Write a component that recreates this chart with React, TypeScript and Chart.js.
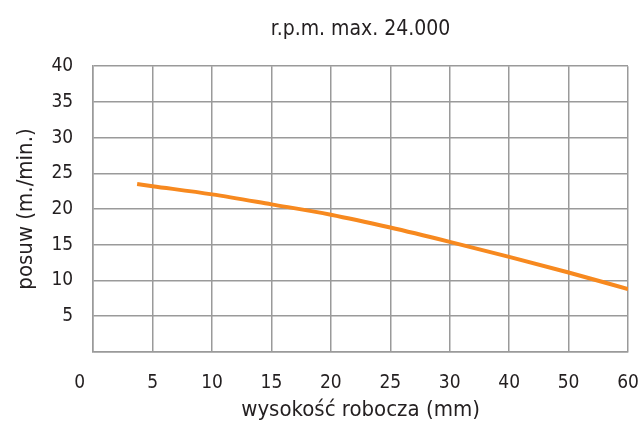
import React, { useEffect, useRef } from "react";
import { Chart, registerables } from "chart.js";

Chart.register(...registerables);

const xTickLabels = ["0", "5", "10", "15", "20", "25", "30", "40", "50", "60"];
const xValues = [3.7, 5, 10, 15, 20, 25, 30, 40, 50, 60];
const feedValues = [23.5, 23.2, 22.05, 20.65, 19.2, 17.4, 15.4, 13.3, 11.1, 8.8];
const yMin = 0;
const yMax = 40;
const yStep = 5;

const titleText = "r.p.m. max. 24.000";
const xTitle = "wysokość robocza (mm)";
const yTitle = "posuw (m./min.)";

const FONT = "'Liberation Sans Narrow', 'DejaVu Sans Condensed', sans-serif";
const TEXT = "#231f20";
const GRID = "#9a9a9a";
const LINE = "#f7891f";

// map a mm value to its position on the (evenly spaced) tick axis
function toAxisPos(v: number): number {
  const ticks = xTickLabels.map(Number);
  for (let i = 0; i < ticks.length - 1; i++) {
    if (v >= ticks[i] && v <= ticks[i + 1]) {
      return i + (v - ticks[i]) / (ticks[i + 1] - ticks[i]);
    }
  }
  return ticks.length - 1;
}

export default function App() {
  const ref = useRef<HTMLCanvasElement | null>(null);

  useEffect(() => {
    document.body.style.margin = "0";
    const canvas = ref.current;
    if (!canvas) return;
    const chart = new Chart(canvas, {
      type: "line",
      data: {
        datasets: [
          {
            data: xValues.map((x, i) => ({ x: toAxisPos(x), y: feedValues[i] })),
            borderColor: LINE,
            borderWidth: 4,
            pointRadius: 0,
            tension: 0.4,
            cubicInterpolationMode: "monotone",
            fill: false,
          },
        ],
      },
      options: {
        animation: false,
        responsive: false,
        devicePixelRatio: 1,
        layout: { padding: { left: 3, right: 10, top: 0, bottom: 5 } },
        plugins: {
          legend: { display: false },
          tooltip: { enabled: false },
          title: {
            display: true,
            text: titleText,
            fullSize: false,
            color: TEXT,
            font: { family: FONT, size: 21, weight: "normal" },
            padding: { top: 17, bottom: 24 },
          },
        },
        scales: {
          x: {
            type: "linear",
            min: 0,
            max: xTickLabels.length - 1,
            afterFit: (s: any) => {
              s.paddingRight = 10;
            },
            ticks: {
              stepSize: 1,
              autoSkip: false,
              maxRotation: 0,
              color: TEXT,
              font: { family: FONT, size: 19 },
              padding: 0,
              callback: (v: any) => {
                const i = Math.round(Number(v));
                const s = xTickLabels[i] ?? "";
                return i === 0 ? s + "     " : s;
              },
            },
            grid: {
              color: GRID,
              lineWidth: 1.5,
              drawTicks: true,
              tickLength: 20,
              tickColor: "rgba(0,0,0,0)",
            },
            border: { color: GRID, width: 1.5 },
            title: {
              display: true,
              text: xTitle,
              color: TEXT,
              font: { family: FONT, size: 22 },
              padding: { top: 2, bottom: 0 },
            },
          },
          y: {
            min: yMin,
            max: yMax,
            ticks: {
              stepSize: yStep,
              color: TEXT,
              font: { family: FONT, size: 19 },
              padding: 0,
              callback: (v: any) => (Number(v) === 0 ? "" : String(v)),
            },
            grid: {
              color: GRID,
              lineWidth: 1.5,
              drawTicks: true,
              tickLength: 20,
              tickColor: "rgba(0,0,0,0)",
            },
            border: { color: GRID, width: 1.5 },
            title: {
              display: true,
              text: yTitle,
              color: TEXT,
              font: { family: FONT, size: 22 },
              padding: { top: 10, bottom: 12 },
            },
          },
        },
      },
    });
    return () => chart.destroy();
  }, []);

  return (
    <div style={{ width: 638, height: 428, background: "#fff" }}>
      <canvas ref={ref} width={638} height={428} />
    </div>
  );
}
